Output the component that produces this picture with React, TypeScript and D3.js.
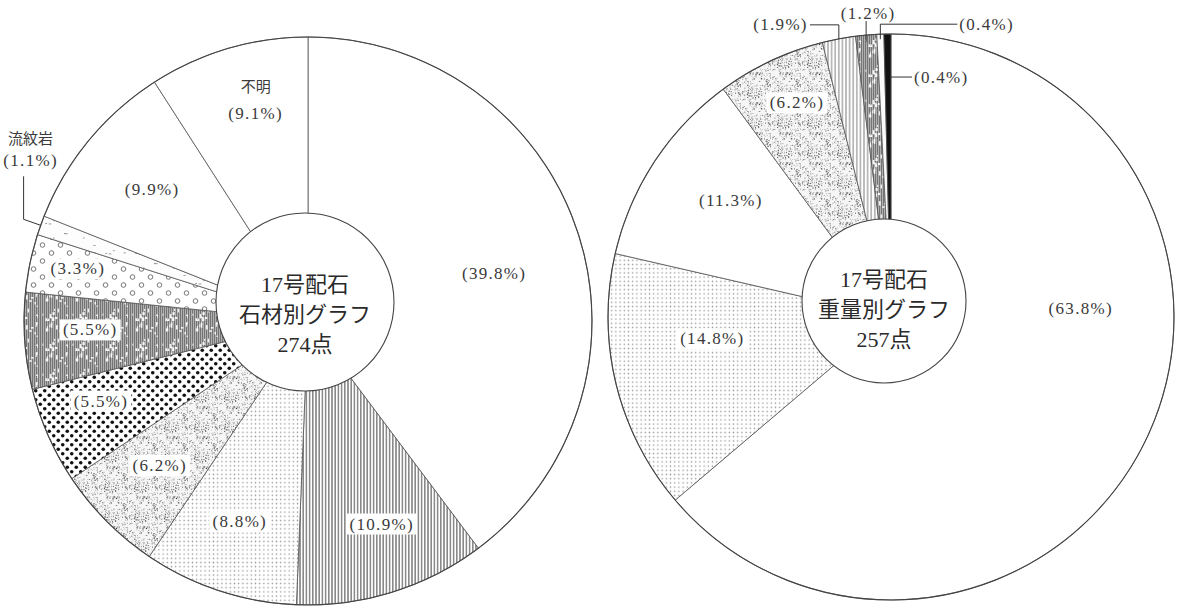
import React, { useMemo } from "react";
import * as d3 from "d3";

// ---------- data ----------
const stoneNames = ["", "", "", "", "", "", "", "流紋岩", "", "不明"];
const stoneValues = [39.8, 10.9, 8.8, 6.2, 5.5, 5.5, 3.3, 1.1, 9.9, 9.1];
const stoneTitle = ["17号配石", "石材別グラフ", "274点"];

const weightNames = ["", "", "", "", "", "", "", ""];
const weightValues = [63.8, 14.8, 11.3, 6.2, 1.9, 1.2, 0.4, 0.4];
const weightTitle = ["17号配石", "重量別グラフ", "257点"];

// ---------- style ----------
const W = 1178;
const H = 613;
const FONT = "'Liberation Serif', 'DejaVu Serif', 'Noto Sans CJK JP', serif";
const TXT = "#3a3a3a";
const LINE = "#555";

const pct = (v: number) => `(${v.toFixed(1)}%)`;

function rng(seed: number) {
  let s = seed >>> 0;
  return () => {
    s = (Math.imul(s, 1664525) + 1013904223) >>> 0;
    return s / 4294967296;
  };
}

function Patterns() {
  const specks = useMemo(() => {
    const r = rng(11);
    return d3.range(230).map(() => ({
      x: r() * 30, y: r() * 30, w: 0.4 + r() * 0.9, h: 0.4 + r() * 0.9, o: 0.3 + r() * 0.6,
    }));
  }, []);
  const whites = useMemo(() => {
    const r = rng(29);
    return d3.range(26).map(() => ({
      x: r() * 30, y: r() * 30, w: 0.8 + r() * 1.8, h: 1 + r() * 3.5,
    }));
  }, []);
  const rhy = useMemo(() => {
    const r = rng(5);
    return d3.range(8).map(() => ({ x: r() * 30, y: r() * 30, w: 1.5 + r() * 2 }));
  }, []);
  return (
    <defs>
      <pattern id="vlines" width="3.2" height="10" patternUnits="userSpaceOnUse">
        <rect width="3.2" height="10" fill="#fff" />
        <line x1="1.6" x2="1.6" y1="0" y2="10" stroke="#3a3a3a" strokeWidth="0.95" />
      </pattern>
      <pattern id="vlinesLight" width="3.6" height="10" patternUnits="userSpaceOnUse">
        <rect width="3.6" height="10" fill="#fff" />
        <line x1="1.8" x2="1.8" y1="0" y2="10" stroke="#555" strokeWidth="0.8" />
      </pattern>
      <pattern id="finedots" width="4.2" height="4.2" patternUnits="userSpaceOnUse">
        <rect width="4.2" height="4.2" fill="#fff" />
        <circle cx="2.1" cy="2.1" r="0.75" fill="#9a9a9a" />
      </pattern>
      <pattern id="speckle" width="30" height="30" patternUnits="userSpaceOnUse">
        <rect width="30" height="30" fill="#f6f6f6" />
        {specks.map((s, i) => (
          <rect key={i} x={s.x} y={s.y} width={s.w} height={s.h} fill="#222" opacity={s.o} />
        ))}
      </pattern>
      <pattern id="bigdots" width="9" height="9" patternUnits="userSpaceOnUse">
        <rect width="9" height="9" fill="#fff" />
        <circle cx="2.25" cy="2.25" r="1.8" fill="#111" />
        <circle cx="6.75" cy="6.75" r="1.8" fill="#111" />
      </pattern>
      <pattern id="grayv" width="30" height="30" patternUnits="userSpaceOnUse">
        <rect width="30" height="30" fill="#b0b0b0" />
        {d3.range(0, 30, 2).map((x) => (
          <line key={x} x1={x + 0.5} x2={x + 0.5} y1="0" y2="30" stroke="#5a5a5a" strokeWidth="0.7" />
        ))}
        {whites.map((s, i) => (
          <rect key={i} x={s.x} y={s.y} width={s.w} height={s.h} fill="#fff" opacity="0.9" />
        ))}
      </pattern>
      <pattern id="circles" width="18" height="16" patternUnits="userSpaceOnUse">
        <rect width="18" height="16" fill="#fff" />
        <circle cx="4.5" cy="4" r="2.3" fill="none" stroke="#555" strokeWidth="0.8" />
        <circle cx="13.5" cy="12" r="2.3" fill="none" stroke="#555" strokeWidth="0.8" />
      </pattern>
      <pattern id="rhyolite" width="30" height="30" patternUnits="userSpaceOnUse">
        <rect width="30" height="30" fill="#fdfdfd" />
        {rhy.map((s, i) => (
          <rect key={i} x={s.x} y={s.y} width={s.w} height="0.8" fill="#888" />
        ))}
      </pattern>
    </defs>
  );
}

type LabelCfg = { r: number; da: number; bg?: boolean };
type ExtCfg = {
  anchorR: number;
  pts: [number, number][];
  text: [number, number];
  anchor: "start" | "middle" | "end";
};

interface PieProps {
  cx: number; cy: number; r: number;
  values: number[]; names: string[]; fills: string[];
  labels: (LabelCfg | null)[];
  ext: (ExtCfg | null)[];
  hole: { cx: number; cy: number; r: number };
  title: string[];
  titleY: number[];
}

function Pie(p: PieProps) {
  const arcs = d3.pie<number>().sort(null).value((d) => d)(p.values);
  const arc = d3.arc<d3.PieArcDatum<number>>().innerRadius(0).outerRadius(p.r);
  const polar = (ang: number, rad: number): [number, number] => [
    p.cx + rad * Math.sin(ang),
    p.cy - rad * Math.cos(ang),
  ];
  return (
    <g>
      <g transform={`translate(${p.cx},${p.cy})`}>
        {arcs.map((a, i) => (
          <path key={i} d={arc(a) || ""} fill={p.fills[i]} stroke={LINE} strokeWidth="0.8" />
        ))}
      </g>
      <circle cx={p.cx} cy={p.cy} r={p.r} fill="none" stroke="#444" strokeWidth="1.1" />
      {arcs.map((a, i) => {
        const cfg = p.labels[i];
        if (!cfg) return null;
        const mid = (a.startAngle + a.endAngle) / 2 + (cfg.da * Math.PI) / 180;
        const [x, y] = polar(mid, cfg.r);
        const t = pct(p.values[i]);
        const name = p.names[i];
        const w = t.length * 9.5 + 4;
        return (
          <g key={"l" + i}>
            {cfg.bg && <rect x={x - w / 2} y={y - 10.5} width={w} height={21} fill="#fff" />}
            {name && (
              <text x={x} y={y - 27} textAnchor="middle" dominantBaseline="central"
                fontFamily={FONT} fontSize="15" fill={TXT}>{name}</text>
            )}
            <text x={x} y={y} textAnchor="middle" dominantBaseline="central"
              fontFamily={FONT} fontSize="17" letterSpacing="1.3" fill={TXT}>{t}</text>
          </g>
        );
      })}
      {arcs.map((a, i) => {
        const e = p.ext[i];
        if (!e) return null;
        const mid = (a.startAngle + a.endAngle) / 2;
        const [ax, ay] = polar(mid, p.r * e.anchorR);
        const pts = e.pts.map(([dx, dy]) => `${ax + dx},${ay + dy}`).join(" ");
        const name = p.names[i];
        return (
          <g key={"e" + i}>
            <polyline points={pts} fill="none" stroke="#333" strokeWidth="1" />
            {name && (
              <text x={ax + e.text[0]} y={ay + e.text[1] - 21} textAnchor={e.anchor}
                dominantBaseline="central" fontFamily={FONT} fontSize="15" fill={TXT}>{name}</text>
            )}
            <text x={ax + e.text[0]} y={ay + e.text[1]} textAnchor={e.anchor}
              dominantBaseline="central" fontFamily={FONT} fontSize="17" letterSpacing="1.3"
              fill={TXT}>{pct(p.values[i])}</text>
          </g>
        );
      })}
      <circle cx={p.hole.cx} cy={p.hole.cy} r={p.hole.r} fill="#fff" stroke="#444" strokeWidth="1.1" />
      {p.title.map((t, i) => (
        <text key={"t" + i} x={p.hole.cx} y={p.titleY[i]} textAnchor="middle" dominantBaseline="central"
          fontFamily={FONT} fontSize="22" fill="#2a2a2a">{t}</text>
      ))}
    </g>
  );
}

export default function App() {
  return (
    <svg width={W} height={H} viewBox={`0 0 ${W} ${H}`}
      style={{ position: "absolute", left: 0, top: 0, background: "#fff" }}>
      <Patterns />
      <Pie
        cx={308} cy={321} r={284}
        values={stoneValues} names={stoneNames}
        fills={["#fff", "url(#vlines)", "url(#finedots)", "url(#speckle)", "url(#bigdots)",
          "url(#grayv)", "url(#circles)", "url(#rhyolite)", "#fff", "#fff"]}
        labels={[
          { r: 192, da: 4.2 },
          { r: 216, da: -2.7, bg: true },
          { r: 212, da: 0.6, bg: true },
          { r: 207, da: 0.6, bg: true },
          { r: 222, da: 2.7, bg: true },
          { r: 218, da: 1.7, bg: true },
          { r: 236, da: 1.0, bg: true },
          null,
          { r: 204, da: 0.7 },
          { r: 214, da: 2.2 },
        ]}
        ext={[null, null, null, null, null, null, null,
          { anchorR: 1, pts: [[0, 0], [-17, -6], [-17, -49]], text: [-10, -65], anchor: "middle" },
          null, null]}
        hole={{ cx: 305, cy: 302, r: 89 }}
        title={stoneTitle}
        titleY={[284, 314, 344]}
      />
      <Pie
        cx={891} cy={317} r={283}
        values={weightValues} names={weightNames}
        fills={["#fff", "url(#finedots)", "#fff", "url(#speckle)", "url(#vlinesLight)",
          "url(#grayv)", "#fafafa", "#111"]}
        labels={[
          { r: 190, da: -27.5 },
          { r: 180, da: 6.7, bg: true },
          { r: 198, da: 2.7 },
          { r: 234, da: 1.5, bg: true },
          null, null, null, null,
        ]}
        ext={[null, null, null, null,
          { anchorR: 1, pts: [[0, 0], [0, -14], [-29, -14]], text: [-31, -14], anchor: "end" },
          { anchorR: 1, pts: [[0, 7], [0, -14]], text: [2, -22], anchor: "middle" },
          { anchorR: 1, pts: [[0, 5], [0, -10], [77, -10]], text: [79, -10], anchor: "start" },
          { anchorR: 0.848, pts: [[3, 0], [24, 0]], text: [26, 0], anchor: "start" },
        ]}
        hole={{ cx: 884, cy: 301, r: 82 }}
        title={weightTitle}
        titleY={[279, 309, 339]}
      />
    </svg>
  );
}
